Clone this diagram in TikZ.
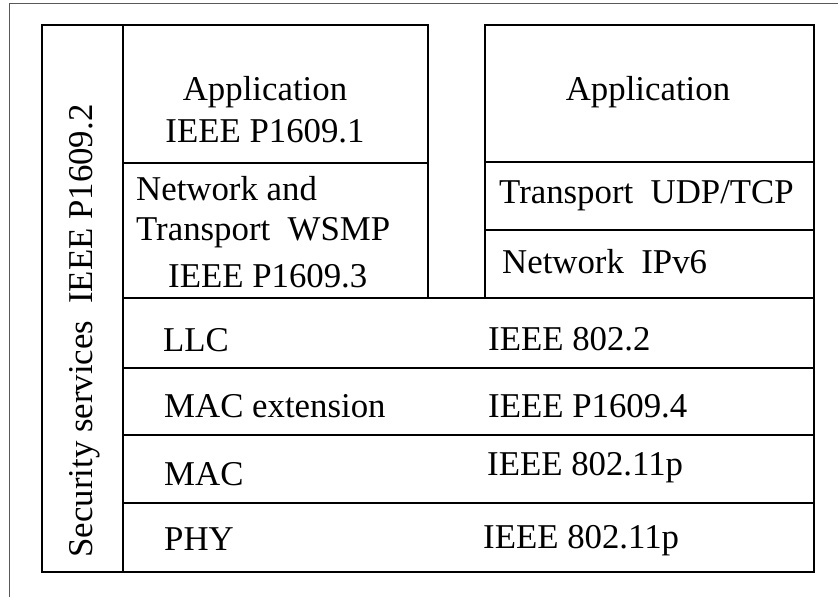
\documentclass[tikz,border=0pt]{standalone}
\usepackage{fontspec}
\setmainfont{Liberation Serif}
\begin{document}
\begin{tikzpicture}[x=1pt,y=-1pt,
  frame/.style={draw=black!65,line width=1.4pt},
  boxline/.style={draw=black,line width=2.6pt},
  lbl/.style={anchor=base west,inner sep=0pt,font=\fontsize{34.8}{42}\selectfont},
  clbl/.style={anchor=base,inner sep=0pt,font=\fontsize{34.8}{42}\selectfont}]
\useasboundingbox (0,0) rectangle (838,597);
% outer frame (top and left only)
\draw[frame] (838,3.5) -- (9.5,3.5) -- (9.5,597);
% main outline
\draw[boxline,line join=miter] (42,25) -- (428,25) -- (428,298) -- (485,298) -- (485,25) -- (814,25) -- (814,572) -- (42,572) -- cycle;
% security column
\draw[boxline] (123,25) -- (123,572);
% upper left divider
\draw[boxline] (123,163) -- (428,163);
% right stack dividers
\draw[boxline] (485,162) -- (814,162);
\draw[boxline] (485,230) -- (814,230);
% full-width rows
\draw[boxline] (123,298) -- (814,298);
\draw[boxline] (123,368) -- (814,368);
\draw[boxline] (123,435) -- (814,435);
\draw[boxline] (123,503) -- (814,503);
% texts
\node[clbl] (appL) at (265,100) {Application};
\node[clbl] (p16091) at (265,142) {IEEE P1609.1};
\node[lbl] (netand) at (136,200) {Network and};
\node[lbl] (transw) at (136,240) {Transport\ \ WSMP};
\node[lbl] (p16093) at (168,287) {IEEE P1609.3};
\node[clbl] (appR) at (648,100) {Application};
\node[lbl] (transu) at (499,203) {Transport\ \ UDP/TCP};
\node[lbl] (netip) at (502,273) {Network\ \ IPv6};
\node[lbl] (llc) at (163,351) {LLC};
\node[lbl] (i8022) at (488,350) {IEEE 802.2};
\node[lbl] (macext) at (164,417) {MAC extension};
\node[lbl] (p16094) at (488,417) {IEEE P1609.4};
\node[lbl] (mac) at (164,485) {MAC};
\node[lbl] (i80211a) at (487,475) {IEEE 802.11p};
\node[lbl] (phy) at (164,550) {PHY};
\node[lbl] (i80211b) at (483,548) {IEEE 802.11p};
\node[clbl,rotate=90] (sec) at (92,331) {Security services\hspace{17pt}IEEE P1609.2};
\end{tikzpicture}
\end{document}
